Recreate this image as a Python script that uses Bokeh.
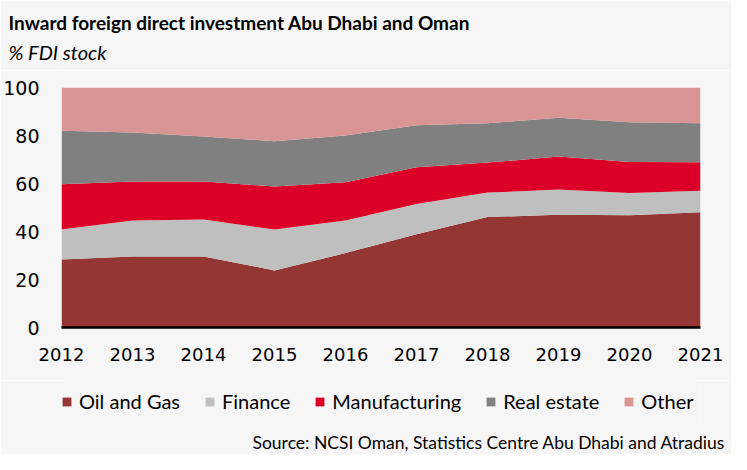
from bokeh.plotting import figure
from bokeh.layouts import column
from bokeh.models import Range1d, FixedTicker, Legend, LegendItem, ColumnDataSource, Title
from bokeh.embed import file_html
from bokeh.resources import INLINE

years = [2012, 2013, 2014, 2015, 2016, 2017, 2018, 2019, 2020, 2021]
oil_gas = [28.3, 29.6, 29.6, 23.8, 31.0, 38.9, 46.0, 47.0, 46.8, 48.0]
finance = [12.5, 15.0, 15.4, 17.0, 13.6, 12.6, 10.2, 10.5, 9.2, 9.0]
manufacturing = [18.9, 16.2, 15.8, 18.0, 15.9, 15.3, 12.5, 13.7, 13.0, 11.9]
real_estate = [22.3, 20.4, 18.8, 18.8, 19.5, 17.5, 16.4, 16.2, 16.5, 16.2]
other = [18.0, 18.8, 20.4, 22.4, 20.0, 15.7, 14.9, 12.6, 14.5, 14.9]

series_names = ["Oil and Gas", "Finance", "Manufacturing", "Real estate", "Other"]
colors = ["#943634", "#bfbfbf", "#dc0028", "#808080", "#d99594"]
y_ticks = [0, 20, 40, 60, 80, 100]

title_text = "Inward foreign direct investment Abu Dhabi and Oman"
subtitle_text = "% FDI stock"
source_text = "Source: NCSI Oman, Statistics Centre Abu Dhabi and Atradius"

BG = "#f6f6f6"
FONT = "Lato"
W = 731
H_TOP, H_MAIN, H_BOT = 70, 310, 74
BORDER_L, BORDER_R = 61, 31


def style(f):
    f.background_fill_color = BG
    f.border_fill_color = BG
    f.outline_line_color = None
    f.xgrid.visible = False
    f.ygrid.visible = False


def text_fig(h, top, bottom):
    f = figure(width=W, height=h, output_backend="svg", toolbar_location=None,
               x_range=Range1d(0, 1), y_range=Range1d(0, 1),
               x_axis_type=None, y_axis_type=None,
               min_border_left=BORDER_L, min_border_right=BORDER_R,
               min_border_top=top, min_border_bottom=bottom)
    style(f)
    return f


# ---- header: title + subtitle ----
head = text_fig(H_TOP, 65, 0)
head.add_layout(Title(text=subtitle_text, text_font=FONT, text_font_style="italic",
                      text_font_size="20px", text_color="#000000", align="left",
                      offset=-53, standoff=4), "above")
head.add_layout(Title(text=title_text, text_font=FONT, text_font_style="bold",
                      text_font_size="19px", text_color="#000000", align="left",
                      offset=-53, standoff=3), "above")

# ---- main chart ----
src = ColumnDataSource(dict(year=years, oil=oil_gas, fin=finance, man=manufacturing,
                            re=real_estate, oth=other))
keys = ["oil", "fin", "man", "re", "oth"]

p = figure(width=W, height=H_MAIN, output_backend="svg", toolbar_location=None,
           x_range=Range1d(2012, 2021), y_range=Range1d(0, 100),
           min_border_left=BORDER_L, min_border_right=BORDER_R,
           min_border_top=17, min_border_bottom=53)
style(p)
p.varea_stack(stackers=keys, x="year", source=src, color=colors)

p.xaxis.ticker = FixedTicker(ticks=years)
p.yaxis.ticker = FixedTicker(ticks=y_ticks)
for ax in (p.xaxis[0], p.yaxis[0]):
    ax.major_tick_line_color = None
    ax.minor_tick_line_color = None
    ax.major_tick_out = 0
    ax.major_tick_in = 0
    ax.major_label_text_font = "DejaVu Sans"
    ax.major_label_text_color = "#000000"
p.xaxis.major_label_text_font_size = "18px"
p.yaxis.major_label_text_font_size = "19px"
p.xaxis.axis_line_color = "#000000"
p.xaxis.axis_line_width = 2.5
p.xaxis.major_label_standoff = 20
p.yaxis.axis_line_color = None
p.yaxis.major_label_standoff = 22

# ---- footer: legend + source ----
bot = text_fig(H_BOT, 0, 26)
dummy = ColumnDataSource(dict(x=[-5.0, -4.0], y1=[-5.0, -5.0], y2=[-4.0, -4.0]))
items = []
for name, col in zip(series_names, colors):
    r = bot.varea(x="x", y1="y1", y2="y2", source=dummy, fill_color=col)
    items.append(LegendItem(label=name, renderers=[r]))
legend = Legend(items=items, orientation="horizontal", location=(0, 15))
legend.padding = 0
legend.margin = 0
legend.spacing = 24
legend.label_standoff = 7
legend.glyph_width = 11
legend.glyph_height = 11
legend.label_height = 22
legend.label_text_font = FONT
legend.label_text_font_size = "20px"
legend.label_text_color = "#000000"
legend.border_line_color = None
legend.background_fill_alpha = 0
bot.add_layout(legend, "center")
bot.add_layout(Title(text=source_text, text_font=FONT, text_font_size="17.5px",
                     text_font_style="normal", text_color="#000000", align="left",
                     offset=191, standoff=2), "below")

layout = column(head, p, bot, spacing=0)
open("out.html", "w").write(file_html(layout, INLINE))
